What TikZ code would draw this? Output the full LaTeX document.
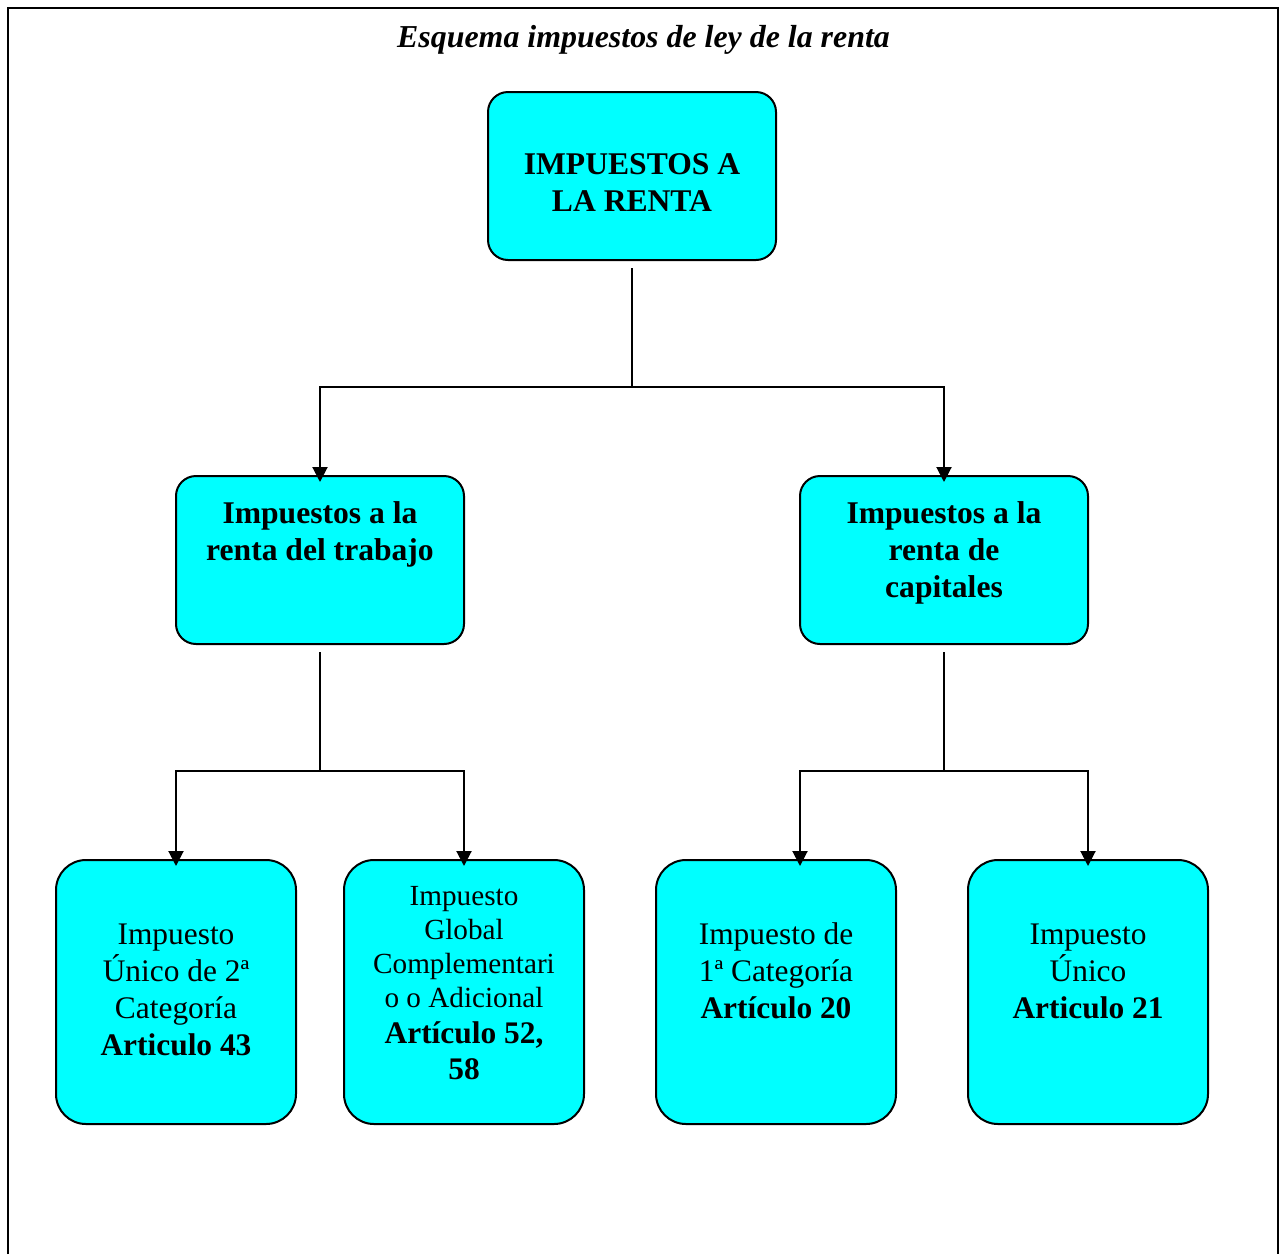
\documentclass[tikz,border=0pt]{standalone}
\usepackage{fontspec}
\setmainfont{Liberation Serif}
\usetikzlibrary{arrows.meta}
\definecolor{boxcyan}{RGB}{0,255,255}
\newcommand\tightls{\lineskiplimit=-20pt\relax}
\tikzset{
  box/.style={draw=black, line width=1pt, fill=boxcyan, inner sep=0pt},
  midbox/.style={box, rounded corners=10pt, minimum width=144pt, minimum height=84pt},
  lowbox/.style={box, rounded corners=15pt, minimum width=120pt, minimum height=132pt},
  txt/.style={inner sep=0pt, align=center, anchor=north, font=\fontsize{15.7}{18.5}\selectfont\tightls},
  conn/.style={line width=1pt, black},
  arr/.style={conn, -{Triangle[length=7.5pt,width=7.5pt]}, shorten >=-3.5pt}
}
\begin{document}
\begin{tikzpicture}[x=0.5pt,y=-0.5pt]
\useasboundingbox (0,0) rectangle (1280,1254);
% frame
\draw[line width=1pt] (8,1254) -- (8,8) -- (1278,8) -- (1278,1254);
% title
\node[inner sep=0pt, anchor=base, font=\fontsize{15.95}{18.5}\selectfont\bfseries\itshape] (title) at (643.5,47) {Esquema impuestos de ley de la renta};
% boxes
\node[midbox] (top) at (632,176) {};
\node[midbox] (ml) at (320,560) {};
\node[midbox] (mr) at (944,560) {};
\node[lowbox] (b1) at (176,992) {};
\node[lowbox] (b2) at (464,992) {};
\node[lowbox] (b3) at (776,992) {};
\node[lowbox] (b4) at (1088,992) {};
% texts
\node[txt, font=\fontsize{15.8}{18.5}\selectfont\bfseries\tightls] (ttop) at (632,148) {\strut IMPUESTOS A\\LA RENTA};
\node[txt, font=\fontsize{15.8}{18.5}\selectfont\bfseries\tightls] (tml) at (320,497) {\strut Impuestos a la\\renta del trabajo};
\node[txt, font=\fontsize{15.8}{18.5}\selectfont\bfseries\tightls] (tmr) at (944,497) {\strut Impuestos a la\\renta de\\capitales};
\node[txt] (tb1) at (176,918) {\strut Impuesto\\Único de 2ª\\Categoría\\\textbf{Articulo 43}};
\node[txt, font=\fontsize{14.6}{17}\selectfont\tightls] (tb2) at (464,881) {\strut Impuesto\\Global\\Complementari\\o o Adicional\\[1pt]{\fontsize{15.7}{18.5}\selectfont\bfseries Artículo 52,}\\[1pt]{\fontsize{15.7}{18.5}\selectfont\bfseries 58}};
\node[txt] (tb3) at (776,918) {\strut Impuesto de\\1ª Categoría\\\textbf{Artículo 20}};
\node[txt] (tb4) at (1088,918) {\strut Impuesto\\Único\\\textbf{Articulo 21}};
% junctions
\coordinate (j1) at (632,387);
\coordinate (j2) at (320,771);
\coordinate (j3) at (944,771);
% connectors
\draw[conn, shorten <=3.5pt] (top.south) -- (j1);
\draw[arr] (j1) -| (ml.north);
\draw[arr] (j1) -| (mr.north);
\draw[conn, shorten <=3.5pt] (ml.south) -- (j2);
\draw[arr] (j2) -| (b1.north);
\draw[arr] (j2) -| (b2.north);
\draw[conn, shorten <=3.5pt] (mr.south) -- (j3);
\draw[arr] (j3) -| ([xshift=12pt]b3.north);
\draw[arr] (j3) -| (b4.north);
\end{tikzpicture}
\end{document}
